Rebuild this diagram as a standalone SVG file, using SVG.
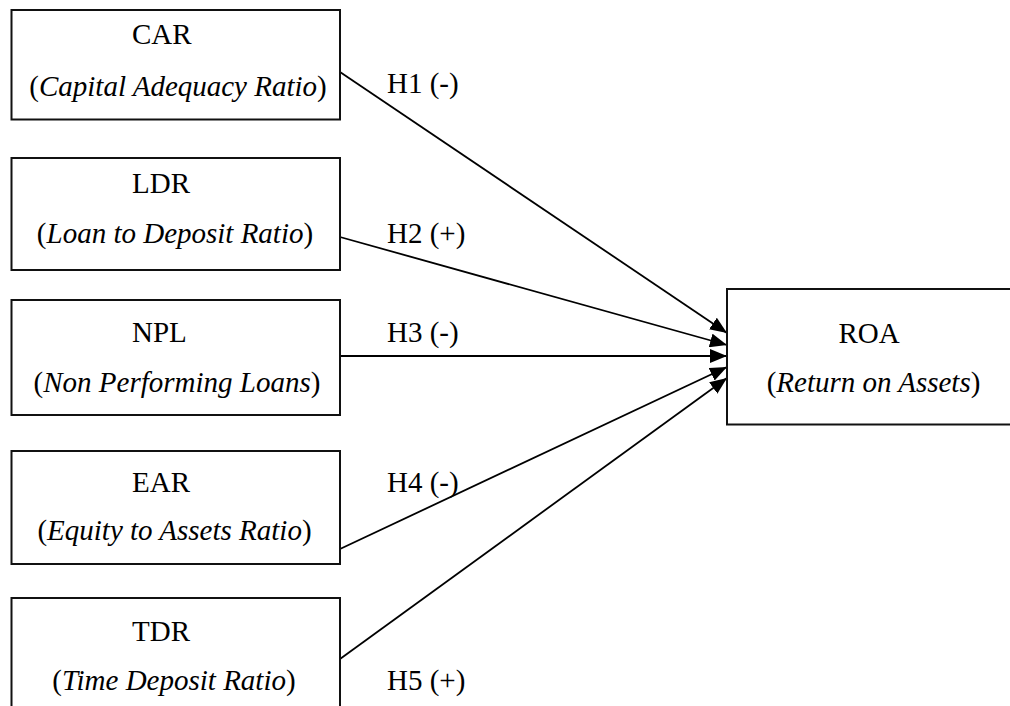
<svg xmlns="http://www.w3.org/2000/svg" width="1010" height="706" viewBox="0 0 1010 706">
  <defs>
    <marker id="arrow" markerUnits="userSpaceOnUse" markerWidth="18" markerHeight="14" refX="17" refY="7" orient="auto">
      <path d="M0,0 L17,7 L0,14 z" fill="#000"/>
    </marker>
    <style>
      .box { fill: #fff; stroke: #111; stroke-width: 2; }
      .t { font-family: 'Liberation Serif', 'DejaVu Serif', serif; font-size: 29px; fill: #000; }
      .i { font-style: italic; }
      .edge { stroke: #000; stroke-width: 1.8; fill: none; marker-end: url(#arrow); }
    </style>
  </defs>
  <rect width="1010" height="706" fill="#fff"/>

  <!-- hypothesis arrows, all ending on the left side of ROA -->
  <g id="connectors">
    <line class="edge" x1="340" y1="72" x2="727" y2="333"/>
    <line class="edge" x1="340" y1="237" x2="727" y2="345"/>
    <line class="edge" x1="340" y1="356" x2="727" y2="356"/>
    <line class="edge" x1="340" y1="549" x2="727" y2="367"/>
    <line class="edge" x1="340" y1="659" x2="727" y2="378"/>
  </g>

  <g id="car">
    <rect class="box" x="11.5" y="10" width="328.5" height="109.5"/>
    <text class="t" x="132" y="44">CAR</text>
    <text class="t" x="178" y="96" text-anchor="middle">(<tspan class="i">Capital Adequacy Ratio</tspan>)</text>
  </g>

  <g id="ldr">
    <rect class="box" x="11.5" y="158" width="328.5" height="112"/>
    <text class="t" x="132" y="193">LDR</text>
    <text class="t" x="175" y="243" text-anchor="middle">(<tspan class="i">Loan to Deposit Ratio</tspan>)</text>
  </g>

  <g id="npl">
    <rect class="box" x="11.5" y="300" width="328.5" height="115"/>
    <text class="t" x="132" y="342">NPL</text>
    <text class="t" x="177" y="392" text-anchor="middle">(<tspan class="i">Non Performing Loans</tspan>)</text>
  </g>

  <g id="ear">
    <rect class="box" x="11.5" y="451" width="328.5" height="113"/>
    <text class="t" x="132" y="492">EAR</text>
    <text class="t" x="174.5" y="540" text-anchor="middle">(<tspan class="i">Equity to Assets Ratio</tspan>)</text>
  </g>

  <g id="tdr">
    <rect class="box" x="11.5" y="598" width="328.5" height="130"/>
    <text class="t" x="132" y="641">TDR</text>
    <text class="t" x="174" y="690" text-anchor="middle">(<tspan class="i">Time Deposit Ratio</tspan>)</text>
  </g>

  <g id="roa">
    <rect class="box" x="727" y="289" width="290" height="135.5"/>
    <text class="t" x="869" y="343" text-anchor="middle">ROA</text>
    <text class="t" x="873.5" y="392" text-anchor="middle">(<tspan class="i">Return on Assets</tspan>)</text>
  </g>

  <g id="labels">
    <text class="t" x="387" y="93">H1 (-)</text>
    <text class="t" x="387" y="243">H2 (+)</text>
    <text class="t" x="387" y="342">H3 (-)</text>
    <text class="t" x="387" y="492">H4 (-)</text>
    <text class="t" x="387" y="690">H5 (+)</text>
  </g>
</svg>
